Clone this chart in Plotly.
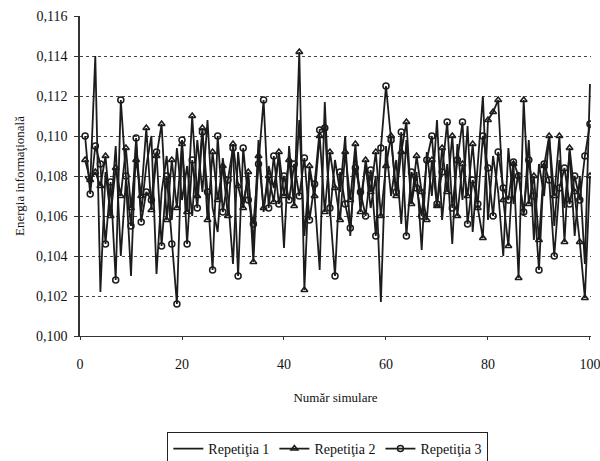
import plotly.graph_objects as go

# Simulation index
sim = list(range(1, 101))

# Informational energy per simulation, three repetitions
rep1 = [0.1080, 0.1076, 0.1140, 0.1022, 0.1082, 0.1060, 0.1095, 0.1040, 0.1078, 0.1030,
        0.1098, 0.1062, 0.1085, 0.1100, 0.1031, 0.1072, 0.1090, 0.1058, 0.1094, 0.1068,
        0.1085, 0.1060, 0.1098, 0.1072, 0.1108, 0.1064, 0.1052, 0.1089, 0.1070, 0.1036,
        0.1092, 0.1066, 0.1080, 0.1045, 0.1098, 0.1062, 0.1085, 0.1074, 0.1090, 0.1044,
        0.1095, 0.1066, 0.1108, 0.1050, 0.1082, 0.1070, 0.1033, 0.1117, 0.1060, 0.1088,
        0.1072, 0.1100, 0.1050, 0.1092, 0.1068, 0.1085, 0.1064, 0.1080, 0.1017, 0.1095,
        0.1070, 0.1088, 0.1056, 0.1098, 0.1066, 0.1082, 0.1043, 0.1092, 0.1070, 0.1108,
        0.1058, 0.1086, 0.1046, 0.1096, 0.1068, 0.1105, 0.1052, 0.1088, 0.1120, 0.1058,
        0.1090, 0.1072, 0.1040, 0.1094, 0.1066, 0.1082, 0.1060, 0.1098, 0.1048, 0.1086,
        0.1070, 0.1100, 0.1055, 0.1088, 0.1064, 0.1092, 0.1050, 0.1080, 0.1036, 0.1126]

rep2 = [0.1088, 0.1078, 0.1082, 0.1075, 0.1090, 0.1060, 0.1084, 0.1070, 0.1094, 0.1064,
        0.1088, 0.1070, 0.1104, 0.1063, 0.1090, 0.1106, 0.1058, 0.1088, 0.1064, 0.1096,
        0.1062, 0.1110, 0.1070, 0.1104, 0.1058, 0.1092, 0.1068, 0.1085, 0.1060, 0.1096,
        0.1075, 0.1064, 0.1082, 0.1037, 0.1090, 0.1064, 0.1080, 0.1067, 0.1092, 0.1070,
        0.1088, 0.1065, 0.1142, 0.1023, 0.1085, 0.1070, 0.1100, 0.1062, 0.1092, 0.1074,
        0.1058, 0.1092, 0.1068, 0.1096, 0.1062, 0.1088, 0.1072, 0.1092, 0.1060, 0.1085,
        0.1100, 0.1070, 0.1092, 0.1107, 0.1066, 0.1090, 0.1072, 0.1058, 0.1088, 0.1065,
        0.1094, 0.1072, 0.1100, 0.1060, 0.1086, 0.1070, 0.1096, 0.1064, 0.1049, 0.1108,
        0.1112, 0.1118, 0.1068, 0.1045, 0.1086, 0.1029, 0.1118, 0.1066, 0.1080, 0.1048,
        0.1085, 0.1100, 0.1070, 0.1100, 0.1047, 0.1094, 0.1072, 0.1047, 0.1019, 0.1080]

rep3 = [0.1100, 0.1071, 0.1095, 0.1086, 0.1046, 0.1077, 0.1028, 0.1118, 0.1080, 0.1055,
        0.1099, 0.1057, 0.1072, 0.1068, 0.1092, 0.1045, 0.1080, 0.1046, 0.1016, 0.1098,
        0.1046, 0.1088, 0.1064, 0.1102, 0.1072, 0.1033, 0.1100, 0.1062, 0.1078, 0.1094,
        0.1030, 0.1094, 0.1068, 0.1056, 0.1086, 0.1118, 0.1064, 0.1090, 0.1066, 0.1080,
        0.1068, 0.1086, 0.1070, 0.1089, 0.1058, 0.1076, 0.1103, 0.1104, 0.1064, 0.1030,
        0.1082, 0.1066, 0.1054, 0.1084, 0.1072, 0.1060, 0.1083, 0.1050, 0.1094, 0.1125,
        0.1098, 0.1072, 0.1102, 0.1050, 0.1082, 0.1074, 0.1060, 0.1088, 0.1100, 0.1066,
        0.1082, 0.1107, 0.1064, 0.1088, 0.1107, 0.1056, 0.1078, 0.1066, 0.1100, 0.1084,
        0.1060, 0.1092, 0.1074, 0.1068, 0.1087, 0.1080, 0.1062, 0.1088, 0.1070, 0.1033,
        0.1086, 0.1078, 0.1040, 0.1074, 0.1084, 0.1066, 0.1080, 0.1068, 0.1090, 0.1106]

names = ["Repetiţia 1", "Repetiţia 2", "Repetiţia 3"]
x_ticks = [0, 20, 40, 60, 80, 100]

INK = "#1c1c1c"
SERIF = "Liberation Serif, DejaVu Serif, serif"

fig = go.Figure()
fig.add_trace(go.Scatter(x=sim, y=rep1, name=names[0], mode="lines",
                         line=dict(color=INK, width=1.8)))
fig.add_trace(go.Scatter(x=sim, y=rep2, name=names[1], mode="lines+markers",
                         line=dict(color=INK, width=1.8),
                         marker=dict(symbol="triangle-up-open", size=6,
                                     color=INK, line=dict(width=1.5))))
fig.add_trace(go.Scatter(x=sim, y=rep3, name=names[2], mode="lines+markers",
                         line=dict(color=INK, width=1.8),
                         marker=dict(symbol="circle-open", size=6,
                                     color=INK, line=dict(width=1.5))))

fig.update_layout(
    width=600, height=461,
    margin=dict(l=80, r=9, t=16, b=125, autoexpand=False),
    paper_bgcolor="white", plot_bgcolor="white",
    separators=",.",
    font=dict(family=SERIF, size=14, color="#111"),
    showlegend=True,
    legend=dict(orientation="h", x=0.485, xanchor="center", y=-0.30, yanchor="top",
                bordercolor="#222", borderwidth=1, font=dict(size=14, family=SERIF),
                itemwidth=30, tracegroupgap=0),
    xaxis=dict(range=[0, 100.2], tickvals=x_ticks, showgrid=False, zeroline=False,
               showline=True, linecolor="#333", linewidth=1, automargin=False,
               ticks="outside", ticklen=3, tickcolor="#333", ticklabelstandoff=12,
               ticklabeloverflow="allow",
               title=dict(text="Număr simulare", font=dict(size=13, family=SERIF),
                          standoff=22)),
    yaxis=dict(range=[0.100, 0.116], dtick=0.002, tickformat=".3f", automargin=False,
               showgrid=True, gridcolor="#444", gridwidth=1, griddash="dot",
               zeroline=False, showline=True, linecolor="#333", linewidth=1.5,
               ticks="outside", ticklen=4, tickcolor="#333", ticklabelstandoff=4,
               title=dict(text="Energia informaţională", font=dict(size=13, family=SERIF),
                          standoff=8)),
)

fig.write_html("out.html")
